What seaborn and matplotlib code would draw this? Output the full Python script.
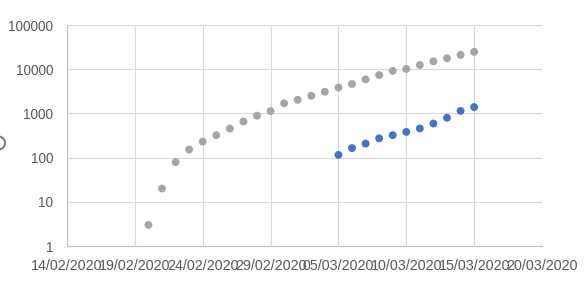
import matplotlib
matplotlib.use("Agg")
import matplotlib.pyplot as plt
import matplotlib.ticker as mticker
import matplotlib.transforms as mtransforms
from matplotlib.patches import Circle
import seaborn as sns
import pandas as pd

gray_dates = ["20/02/2020", "21/02/2020", "22/02/2020", "23/02/2020", "24/02/2020",
              "25/02/2020", "26/02/2020", "27/02/2020", "28/02/2020", "29/02/2020",
              "01/03/2020", "02/03/2020", "03/03/2020", "04/03/2020", "05/03/2020",
              "06/03/2020", "07/03/2020", "08/03/2020", "09/03/2020", "10/03/2020",
              "11/03/2020", "12/03/2020", "13/03/2020", "14/03/2020", "15/03/2020"]
gray_values = [3, 20, 79, 152, 229, 322, 453, 655, 888, 1128, 1694, 2036, 2502, 3089,
               3858, 4636, 5883, 7375, 9172, 10149, 12462, 15113, 17660, 21157, 24747]

blue_dates = ["05/03/2020", "06/03/2020", "07/03/2020", "08/03/2020", "09/03/2020",
              "10/03/2020", "11/03/2020", "12/03/2020", "13/03/2020", "14/03/2020",
              "15/03/2020"]
blue_values = [115, 164, 207, 273, 321, 382, 456, 590, 798, 1140, 1391]

x_ticks = ["14/02/2020", "19/02/2020", "24/02/2020", "29/02/2020", "05/03/2020",
           "10/03/2020", "15/03/2020", "20/03/2020"]
y_ticks = [1, 10, 100, 1000, 10000, 100000]

sns.set_theme(style="white")
plt.rcParams['font.family'] = ['Liberation Sans', 'DejaVu Sans']

gray_df = pd.DataFrame({"date": pd.to_datetime(gray_dates, format="%d/%m/%Y"), "value": gray_values})
blue_df = pd.DataFrame({"date": pd.to_datetime(blue_dates, format="%d/%m/%Y"), "value": blue_values})
xt = pd.to_datetime(x_ticks, format="%d/%m/%Y")

fig = plt.figure(figsize=(5.84, 2.89), dpi=100)
ax = fig.add_axes([67/584, 1 - 246/289, (542 - 67)/584, (246 - 25)/289])

sns.scatterplot(data=gray_df, x="date", y="value", ax=ax, color="#a5a5a5",
                s=32, edgecolor="none", zorder=3)
sns.scatterplot(data=blue_df, x="date", y="value", ax=ax, color="#4472c4",
                s=32, edgecolor="none", zorder=3)

ax.set_yscale("log")
ax.set_ylim(y_ticks[0], y_ticks[-1])
ax.set_yticks(y_ticks)
ax.yaxis.set_major_formatter(mticker.FuncFormatter(lambda v, p: f"{int(round(v))}"))
ax.yaxis.set_minor_locator(mticker.NullLocator())
ax.set_xlim(xt[0], xt[-1])
ax.set_xticks(xt)
ax.set_xticklabels(x_ticks)

ax.grid(True, color="#d9d9d9", linewidth=0.8)
ax.set_axisbelow(True)
for side in ["top", "right"]:
    ax.spines[side].set_visible(False)
for side in ["left", "bottom"]:
    ax.spines[side].set_color("#bfbfbf")
    ax.spines[side].set_linewidth(0.8)
ax.tick_params(axis="both", length=0, colors="#595959")
ax.tick_params(axis="y", pad=10, labelsize=9.8)
ax.tick_params(axis="x", pad=9.5, labelsize=10.3)
ax.set_xlabel("")
ax.set_ylabel("")

# clipped ring decoration at the left edge (pixel coordinates)
fig.patches.append(Circle((-1.5, 289 - 143), 6.5,
                          transform=mtransforms.IdentityTransform(), fill=False,
                          edgecolor="#808080", linewidth=1.5))

fig.savefig("out.png", dpi=100)
